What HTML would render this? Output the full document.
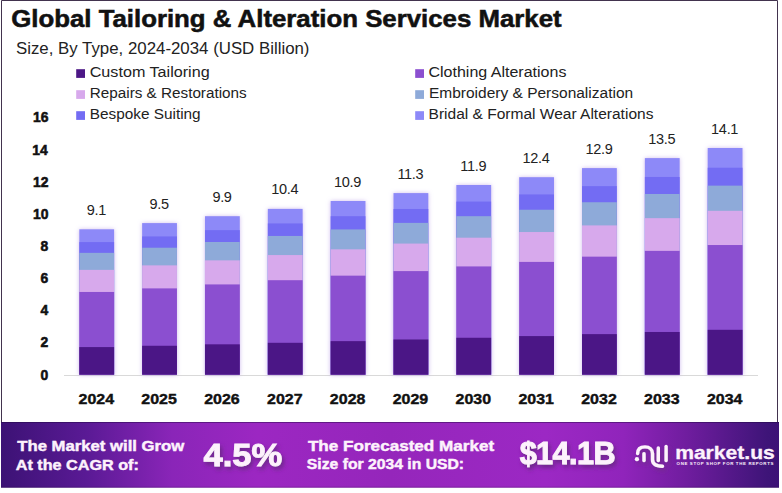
<!DOCTYPE html>
<html><head><meta charset="utf-8"><style>
html,body{margin:0;padding:0;background:#fff;width:782px;height:493px;overflow:hidden}
svg{display:block}
text{font-family:"Liberation Sans", sans-serif}
</style></head><body>
<svg width="782" height="493" viewBox="0 0 782 493">
<defs>
<linearGradient id="bg" x1="0" y1="0" x2="1" y2="0">
<stop offset="0" stop-color="#3c1275"/>
<stop offset="0.11" stop-color="#5a1a95"/>
<stop offset="0.22" stop-color="#8a25b8"/>
<stop offset="0.33" stop-color="#9c27c2"/>
<stop offset="0.5" stop-color="#9526bb"/>
<stop offset="0.7" stop-color="#9c28c4"/>
<stop offset="0.8" stop-color="#9024bb"/>
<stop offset="0.88" stop-color="#701d9f"/>
<stop offset="0.985" stop-color="#3e1478"/>
<stop offset="1" stop-color="#3c1276"/>
</linearGradient>
<filter id="bsh" x="-30%" y="-10%" width="160%" height="120%">
<feGaussianBlur in="SourceAlpha" stdDeviation="2"/>
<feColorMatrix type="matrix" values="0 0 0 0 0.5  0 0 0 0 0.35  0 0 0 0 0.8  0 0 0 0.7 0"/>
<feMerge><feMergeNode/><feMergeNode in="SourceGraphic"/></feMerge>
</filter>
<filter id="tsh" x="-20%" y="-20%" width="140%" height="160%">
<feGaussianBlur in="SourceAlpha" stdDeviation="2.2"/>
<feOffset dx="2" dy="2.5"/>
<feColorMatrix type="matrix" values="0 0 0 0 0.18  0 0 0 0 0.02  0 0 0 0 0.3  0 0 0 1.3 0"/>
<feMerge><feMergeNode/><feMergeNode in="SourceGraphic"/></feMerge>
</filter>
</defs>
<path d="M1.5 430 L1.5 0.5 L777.5 0.5 L777.5 430" fill="none" stroke="#42334e" stroke-width="1"/>

<text transform="translate(11.22,27.00) scale(1.0751,1)" font-size="24" font-weight="700" letter-spacing="0" fill="#111" stroke="#111" stroke-width="0.55">Global Tailoring &amp; Alteration Services Market</text>
<text transform="translate(15.97,54.00) scale(1.0337,1)" font-size="16.3" font-weight="400" letter-spacing="0" fill="#222">Size, By Type, 2024-2034 (USD Billion)</text>
<rect x="76.2" y="69.2" width="8.8" height="8.7" fill="#4c1786"/>
<text transform="translate(89.69,77.10) scale(1.1142,1)" font-size="14.5" font-weight="400" letter-spacing="0" fill="#222">Custom Tailoring</text>
<rect x="76.2" y="90.2" width="8.8" height="8.7" fill="#d7a9ec"/>
<text transform="translate(89.75,97.90) scale(1.0541,1)" font-size="14.5" font-weight="400" letter-spacing="0" fill="#222">Repairs &amp; Restorations</text>
<rect x="76.2" y="111.2" width="8.8" height="8.7" fill="#736cf3"/>
<text transform="translate(89.74,119.00) scale(1.0592,1)" font-size="14.5" font-weight="400" letter-spacing="0" fill="#222">Bespoke Suiting</text>
<rect x="415.2" y="69.2" width="8.8" height="8.7" fill="#8b4fd0"/>
<text transform="translate(428.50,77.10) scale(1.1048,1)" font-size="14.5" font-weight="400" letter-spacing="0" fill="#222">Clothing Alterations</text>
<rect x="415.2" y="90.2" width="8.8" height="8.7" fill="#8eaad9"/>
<text transform="translate(428.93,97.90) scale(1.0704,1)" font-size="14.5" font-weight="400" letter-spacing="0" fill="#222">Embroidery &amp; Personalization</text>
<rect x="415.2" y="111.2" width="8.8" height="8.7" fill="#8d89f8"/>
<text transform="translate(428.53,119.00) scale(1.0713,1)" font-size="14.5" font-weight="400" letter-spacing="0" fill="#222">Bridal &amp; Formal Wear Alterations</text>
<text transform="translate(40.49,379.60) scale(0.9267,1)" font-size="15" font-weight="700" letter-spacing="0" fill="#111" stroke="#111" stroke-width="0.6">0</text>
<text transform="translate(40.49,347.46) scale(0.9267,1)" font-size="15" font-weight="700" letter-spacing="0" fill="#111" stroke="#111" stroke-width="0.6">2</text>
<text transform="translate(40.49,315.32) scale(0.9267,1)" font-size="15" font-weight="700" letter-spacing="0" fill="#111" stroke="#111" stroke-width="0.6">4</text>
<text transform="translate(40.49,283.18) scale(0.9267,1)" font-size="15" font-weight="700" letter-spacing="0" fill="#111" stroke="#111" stroke-width="0.6">6</text>
<text transform="translate(40.49,251.04) scale(0.9267,1)" font-size="15" font-weight="700" letter-spacing="0" fill="#111" stroke="#111" stroke-width="0.6">8</text>
<text transform="translate(33.07,218.90) scale(0.9267,1)" font-size="15" font-weight="700" letter-spacing="0" fill="#111" stroke="#111" stroke-width="0.6">10</text>
<text transform="translate(33.07,186.76) scale(0.9267,1)" font-size="15" font-weight="700" letter-spacing="0" fill="#111" stroke="#111" stroke-width="0.6">12</text>
<text transform="translate(32.15,154.62) scale(0.9267,1)" font-size="15" font-weight="700" letter-spacing="0" fill="#111" stroke="#111" stroke-width="0.6">14</text>
<text transform="translate(33.07,122.48) scale(0.9267,1)" font-size="15" font-weight="700" letter-spacing="0" fill="#111" stroke="#111" stroke-width="0.6">16</text>
<line x1="64" y1="375.5" x2="758" y2="375.5" stroke="#d9d9d9" stroke-width="1"/>
<g filter="url(#bsh)">
<rect x="79.30" y="229.30" width="34.8" height="145.40" fill="#8d89f8"/>
<rect x="79.30" y="242.10" width="34.8" height="132.60" fill="#736cf3"/>
<rect x="79.30" y="252.85" width="34.8" height="121.85" fill="#8eaad9"/>
<rect x="79.30" y="269.87" width="34.8" height="104.83" fill="#d7a9ec"/>
<rect x="79.30" y="291.97" width="34.8" height="82.73" fill="#8b4fd0"/>
<rect x="79.30" y="347.07" width="34.8" height="27.63" fill="#4c1786"/>
<rect x="142.14" y="223.10" width="34.8" height="151.60" fill="#8d89f8"/>
<rect x="142.14" y="236.43" width="34.8" height="138.27" fill="#736cf3"/>
<rect x="142.14" y="247.72" width="34.8" height="126.98" fill="#8eaad9"/>
<rect x="142.14" y="265.37" width="34.8" height="109.33" fill="#d7a9ec"/>
<rect x="142.14" y="288.39" width="34.8" height="86.31" fill="#8b4fd0"/>
<rect x="142.14" y="345.77" width="34.8" height="28.93" fill="#4c1786"/>
<rect x="204.98" y="216.20" width="34.8" height="158.50" fill="#8d89f8"/>
<rect x="204.98" y="230.12" width="34.8" height="144.58" fill="#736cf3"/>
<rect x="204.98" y="242.00" width="34.8" height="132.70" fill="#8eaad9"/>
<rect x="204.98" y="260.36" width="34.8" height="114.34" fill="#d7a9ec"/>
<rect x="204.98" y="284.42" width="34.8" height="90.28" fill="#8b4fd0"/>
<rect x="204.98" y="344.33" width="34.8" height="30.37" fill="#4c1786"/>
<rect x="267.82" y="208.90" width="34.8" height="165.80" fill="#8d89f8"/>
<rect x="267.82" y="223.44" width="34.8" height="151.26" fill="#736cf3"/>
<rect x="267.82" y="235.96" width="34.8" height="138.74" fill="#8eaad9"/>
<rect x="267.82" y="255.06" width="34.8" height="119.64" fill="#d7a9ec"/>
<rect x="267.82" y="280.21" width="34.8" height="94.49" fill="#8b4fd0"/>
<rect x="267.82" y="342.80" width="34.8" height="31.90" fill="#4c1786"/>
<rect x="330.66" y="201.00" width="34.8" height="173.70" fill="#8d89f8"/>
<rect x="330.66" y="216.22" width="34.8" height="158.48" fill="#736cf3"/>
<rect x="330.66" y="229.42" width="34.8" height="145.28" fill="#8eaad9"/>
<rect x="330.66" y="249.32" width="34.8" height="125.38" fill="#d7a9ec"/>
<rect x="330.66" y="275.66" width="34.8" height="99.04" fill="#8b4fd0"/>
<rect x="330.66" y="341.14" width="34.8" height="33.56" fill="#4c1786"/>
<rect x="393.50" y="193.10" width="34.8" height="181.60" fill="#8d89f8"/>
<rect x="393.50" y="208.99" width="34.8" height="165.71" fill="#736cf3"/>
<rect x="393.50" y="222.88" width="34.8" height="151.82" fill="#8eaad9"/>
<rect x="393.50" y="243.58" width="34.8" height="131.12" fill="#d7a9ec"/>
<rect x="393.50" y="271.10" width="34.8" height="103.60" fill="#8b4fd0"/>
<rect x="393.50" y="339.47" width="34.8" height="35.23" fill="#4c1786"/>
<rect x="456.34" y="185.00" width="34.8" height="189.70" fill="#8d89f8"/>
<rect x="456.34" y="201.58" width="34.8" height="173.12" fill="#736cf3"/>
<rect x="456.34" y="216.19" width="34.8" height="158.51" fill="#8eaad9"/>
<rect x="456.34" y="237.70" width="34.8" height="137.00" fill="#d7a9ec"/>
<rect x="456.34" y="266.42" width="34.8" height="108.28" fill="#8b4fd0"/>
<rect x="456.34" y="337.75" width="34.8" height="36.95" fill="#4c1786"/>
<rect x="519.18" y="177.20" width="34.8" height="197.50" fill="#8d89f8"/>
<rect x="519.18" y="194.44" width="34.8" height="180.26" fill="#736cf3"/>
<rect x="519.18" y="209.75" width="34.8" height="164.95" fill="#8eaad9"/>
<rect x="519.18" y="232.03" width="34.8" height="142.67" fill="#d7a9ec"/>
<rect x="519.18" y="261.91" width="34.8" height="112.79" fill="#8b4fd0"/>
<rect x="519.18" y="336.07" width="34.8" height="38.63" fill="#4c1786"/>
<rect x="582.02" y="168.10" width="34.8" height="206.60" fill="#8d89f8"/>
<rect x="582.02" y="186.12" width="34.8" height="188.58" fill="#736cf3"/>
<rect x="582.02" y="202.23" width="34.8" height="172.47" fill="#8eaad9"/>
<rect x="582.02" y="225.41" width="34.8" height="149.29" fill="#d7a9ec"/>
<rect x="582.02" y="256.65" width="34.8" height="118.05" fill="#8b4fd0"/>
<rect x="582.02" y="334.12" width="34.8" height="40.58" fill="#4c1786"/>
<rect x="644.86" y="158.10" width="34.8" height="216.60" fill="#8d89f8"/>
<rect x="644.86" y="176.97" width="34.8" height="197.73" fill="#736cf3"/>
<rect x="644.86" y="193.97" width="34.8" height="180.73" fill="#8eaad9"/>
<rect x="644.86" y="218.14" width="34.8" height="156.56" fill="#d7a9ec"/>
<rect x="644.86" y="250.87" width="34.8" height="123.83" fill="#8b4fd0"/>
<rect x="644.86" y="331.99" width="34.8" height="42.71" fill="#4c1786"/>
<rect x="707.70" y="148.00" width="34.8" height="226.70" fill="#8d89f8"/>
<rect x="707.70" y="167.72" width="34.8" height="206.98" fill="#736cf3"/>
<rect x="707.70" y="185.63" width="34.8" height="189.07" fill="#8eaad9"/>
<rect x="707.70" y="210.80" width="34.8" height="163.90" fill="#d7a9ec"/>
<rect x="707.70" y="245.03" width="34.8" height="129.67" fill="#8b4fd0"/>
<rect x="707.70" y="329.81" width="34.8" height="44.89" fill="#4c1786"/>
</g>
<text transform="translate(86.70,214.80) scale(1.0000,1)" font-size="14.5" font-weight="400" letter-spacing="-0.3" fill="#222">9.1</text>
<text transform="translate(78.50,403.80) scale(1.1032,1)" font-size="14.5" font-weight="700" letter-spacing="0" fill="#111" stroke="#111" stroke-width="0.4">2024</text>
<text transform="translate(149.54,208.60) scale(1.0000,1)" font-size="14.5" font-weight="400" letter-spacing="-0.3" fill="#222">9.5</text>
<text transform="translate(141.34,403.80) scale(1.1032,1)" font-size="14.5" font-weight="700" letter-spacing="0" fill="#111" stroke="#111" stroke-width="0.4">2025</text>
<text transform="translate(212.38,201.70) scale(1.0000,1)" font-size="14.5" font-weight="400" letter-spacing="-0.3" fill="#222">9.9</text>
<text transform="translate(204.18,403.80) scale(1.1032,1)" font-size="14.5" font-weight="700" letter-spacing="0" fill="#111" stroke="#111" stroke-width="0.4">2026</text>
<text transform="translate(271.22,194.40) scale(1.0000,1)" font-size="14.5" font-weight="400" letter-spacing="-0.3" fill="#222">10.4</text>
<text transform="translate(267.02,403.80) scale(1.1032,1)" font-size="14.5" font-weight="700" letter-spacing="0" fill="#111" stroke="#111" stroke-width="0.4">2027</text>
<text transform="translate(334.06,186.50) scale(1.0000,1)" font-size="14.5" font-weight="400" letter-spacing="-0.3" fill="#222">10.9</text>
<text transform="translate(329.86,403.80) scale(1.1032,1)" font-size="14.5" font-weight="700" letter-spacing="0" fill="#111" stroke="#111" stroke-width="0.4">2028</text>
<text transform="translate(397.40,178.60) scale(1.0000,1)" font-size="14.5" font-weight="400" letter-spacing="-0.3" fill="#222">11.3</text>
<text transform="translate(392.70,403.80) scale(1.1032,1)" font-size="14.5" font-weight="700" letter-spacing="0" fill="#111" stroke="#111" stroke-width="0.4">2029</text>
<text transform="translate(460.24,170.50) scale(1.0000,1)" font-size="14.5" font-weight="400" letter-spacing="-0.3" fill="#222">11.9</text>
<text transform="translate(455.54,403.80) scale(1.1032,1)" font-size="14.5" font-weight="700" letter-spacing="0" fill="#111" stroke="#111" stroke-width="0.4">2030</text>
<text transform="translate(522.58,162.70) scale(1.0000,1)" font-size="14.5" font-weight="400" letter-spacing="-0.3" fill="#222">12.4</text>
<text transform="translate(518.38,403.80) scale(1.1032,1)" font-size="14.5" font-weight="700" letter-spacing="0" fill="#111" stroke="#111" stroke-width="0.4">2031</text>
<text transform="translate(585.42,153.60) scale(1.0000,1)" font-size="14.5" font-weight="400" letter-spacing="-0.3" fill="#222">12.9</text>
<text transform="translate(581.22,403.80) scale(1.1032,1)" font-size="14.5" font-weight="700" letter-spacing="0" fill="#111" stroke="#111" stroke-width="0.4">2032</text>
<text transform="translate(648.26,143.60) scale(1.0000,1)" font-size="14.5" font-weight="400" letter-spacing="-0.3" fill="#222">13.5</text>
<text transform="translate(644.06,403.80) scale(1.1032,1)" font-size="14.5" font-weight="700" letter-spacing="0" fill="#111" stroke="#111" stroke-width="0.4">2033</text>
<text transform="translate(711.10,133.50) scale(1.0000,1)" font-size="14.5" font-weight="400" letter-spacing="-0.3" fill="#222">14.1</text>
<text transform="translate(706.90,403.80) scale(1.1032,1)" font-size="14.5" font-weight="700" letter-spacing="0" fill="#111" stroke="#111" stroke-width="0.4">2034</text>
<rect x="1" y="422" width="778" height="65.7" fill="url(#bg)"/><rect x="1" y="422" width="778" height="1" fill="#1e0840" fill-opacity="0.45"/><rect x="1" y="486.7" width="778" height="1" fill="#2a0a40" fill-opacity="0.25"/>
<text transform="translate(17.30,451.30) scale(1.1140,1)" font-size="15" font-weight="700" letter-spacing="0" fill="#fdf2fc" stroke="#fdf2fc" stroke-width="0.45">The Market will Grow</text>
<text transform="translate(15.72,470.00) scale(1.0786,1)" font-size="15" font-weight="700" letter-spacing="0" fill="#fdf2fc" stroke="#fdf2fc" stroke-width="0.45">At the CAGR of:</text>
<text transform="translate(307.90,450.80) scale(1.1417,1)" font-size="15" font-weight="700" letter-spacing="0" fill="#fdf2fc" stroke="#fdf2fc" stroke-width="0.45">The Forecasted Market</text>
<text transform="translate(306.85,468.90) scale(1.0480,1)" font-size="15" font-weight="700" letter-spacing="0" fill="#fdf2fc" stroke="#fdf2fc" stroke-width="0.45">Size for 2034 in USD:</text>
<g filter="url(#tsh)">
<text transform="translate(203.52,466.00) scale(1.0803,1)" font-size="32" font-weight="700" letter-spacing="0" fill="#fdf2fc" stroke="#fdf2fc" stroke-width="0.9">4.5%</text>
<text transform="translate(519.64,464.40) scale(0.9582,1)" font-size="32" font-weight="700" letter-spacing="-0.6" fill="#fdf2fc" stroke="#fdf2fc" stroke-width="0.9">$14.1B</text>
</g>
<g fill="none" stroke="#fdf2fc" stroke-linecap="round" stroke-width="3.4" filter="url(#tsh)">
<circle cx="636.9" cy="459.2" r="2.1" fill="#fdf2fc" stroke="none"/>
<path d="M637.6 453.6 C637.6 448.5 641 446.9 645 446.9 C649.5 446.9 652.5 449.5 652.5 453.5 L652.5 459.5 C652.5 464.5 656.5 466.2 662.5 466.2"/>
<path d="M644 453.8 L644 460.5"/>
<path d="M658.3 448 L658.3 460.5"/>
<path d="M666.1 446.5 L666.1 460.5"/>
</g>
<text transform="translate(675.13,459.00) scale(1.1723,1)" font-size="18" font-weight="700" letter-spacing="0" fill="#fdf2fc" stroke="#fdf2fc" stroke-width="0.3">market.us</text>
<text x="676.6" y="465.1" font-size="4.4" font-weight="700" fill="#fdf2fc" textLength="96.8" lengthAdjust="spacing">ONE STOP SHOP FOR THE REPORTS</text>
</svg></body></html>
